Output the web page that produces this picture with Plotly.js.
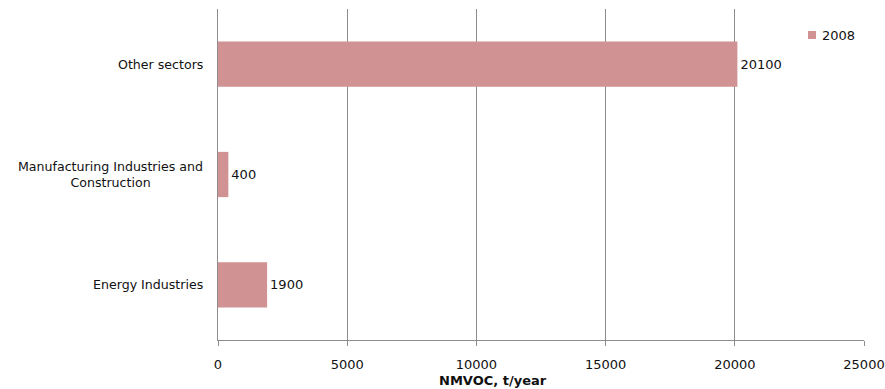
<!DOCTYPE html>
<html>
<head>
<meta charset="utf-8">
<script src="https://cdn.plot.ly/plotly-3.0.1.min.js"></script>
<style>
  html, body { margin: 0; padding: 0; background: #fff; }
  #chart { width: 885px; height: 389px; }
</style>
</head>
<body>
<div id="chart"></div>
<script>
// NMVOC emissions by sector, 2008 (t/year)
const sectors = ["Energy Industries", "Manufacturing Industries and<br>Construction", "Other sectors"];
const values2008 = [1900, 400, 20100];
const seriesName = "2008";
const xTicks = [0, 5000, 10000, 15000, 20000, 25000];

const barColor = "rgb(208,146,146)";
const gridColor = "rgb(140,140,140)";
const font = "DejaVu Sans, Verdana, sans-serif";
const textColor = "#111";

const trace = {
  type: "bar",
  orientation: "h",
  name: seriesName,
  y: sectors,
  x: values2008,
  width: 0.41,
  marker: { color: barColor },
  text: values2008.map(String),
  textposition: "outside",
  textfont: { family: font, size: 13, color: textColor },
  cliponaxis: false,
  showlegend: false,
  hoverinfo: "x+y"
};

// Category labels drawn as centred, right-anchored annotations
const categoryLabels = sectors.map(s => ({
  text: s,
  xref: "paper", yref: "y",
  x: 0, y: s,
  xanchor: "right", yanchor: "middle",
  xshift: -13,
  align: "center",
  showarrow: false,
  font: { family: font, size: 12.6, color: textColor }
}));

// Small legend: swatch + series name at the upper right
const legendX = (808 - 218) / 646;
const legendY = (340 - 35) / 331;
const legendShapes = [{
  type: "rect",
  xref: "paper", yref: "paper",
  x0: legendX, x1: legendX + 8 / 646,
  y0: legendY - 4 / 331, y1: legendY + 4 / 331,
  fillcolor: barColor,
  line: { width: 0 }
}];
const legendLabel = {
  text: seriesName,
  xref: "paper", yref: "paper",
  x: legendX + 12 / 646, y: legendY,
  xanchor: "left", yanchor: "middle",
  showarrow: false,
  font: { family: font, size: 13, color: textColor }
};

const axisTitle = {
  text: "<b>NMVOC, t/year</b>",
  xref: "paper", yref: "paper",
  x: (493 - 218) / 646, y: 0,
  yshift: -40,
  xanchor: "center", yanchor: "middle",
  showarrow: false,
  font: { family: font, size: 13, color: textColor }
};

const layout = {
  width: 885,
  height: 389,
  margin: { l: 218, r: 21, t: 9, b: 49 },
  paper_bgcolor: "#fff",
  plot_bgcolor: "#fff",
  font: { family: font, size: 12, color: textColor },
  showlegend: false,
  xaxis: {
    range: [0, 25000],
    tickvals: xTicks,
    ticktext: xTicks.map(String),
    showgrid: true,
    gridcolor: gridColor,
    gridwidth: 1,
    zeroline: false,
    showline: true,
    linecolor: gridColor,
    ticks: "outside",
    ticklen: 5,
    tickcolor: gridColor,
    ticklabelstandoff: 7,
    tickfont: { family: font, size: 13, color: textColor },
    fixedrange: true
  },
  yaxis: {
    categoryorder: "array",
    categoryarray: sectors,
    showgrid: false,
    zeroline: false,
    showline: true,
    linecolor: gridColor,
    ticks: "",
    showticklabels: false,
    fixedrange: true
  },
  shapes: legendShapes,
  annotations: categoryLabels.concat([legendLabel, axisTitle])
};

Plotly.newPlot("chart", [trace], layout, { displayModeBar: false, staticPlot: true });
</script>
</body>
</html>
